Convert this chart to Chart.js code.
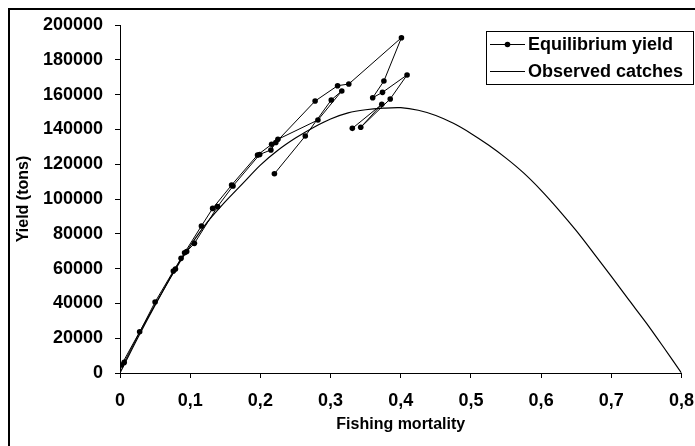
<!DOCTYPE html>
<html>
<head>
<meta charset="utf-8">
<script src="https://cdn.jsdelivr.net/npm/chart.js@4.4.1/dist/chart.umd.min.js"></script>
<style>
  html, body { margin: 0; padding: 0; background: #ffffff; }
  #chart { display: block; }
</style>
</head>
<body>
<canvas id="chart" width="695" height="446"></canvas>
<script>
// Equilibrium yield path (fishing mortality, yield in tons), in series order
const eqMortality = [
  0.220, 0.264, 0.301, 0.316, 0.282, 0.225, 0.216, 0.196, 0.159, 0.132,
  0.116, 0.092, 0.076, 0.050, 0.006, 0.002, 0.028, 0.079, 0.087, 0.095,
  0.106, 0.139, 0.161, 0.199, 0.215, 0.222, 0.278, 0.310, 0.326, 0.401,
  0.376, 0.360, 0.374, 0.409, 0.385, 0.343, 0.373, 0.331
];
const eqYield = [
  114500, 136200, 156900, 162100, 145400, 134300, 131400, 125300, 108000, 94600,
  84500, 69100, 58600, 40800, 6100, 4600, 23700, 59800, 65900, 69800,
  74500, 95600, 107500, 125600, 128200, 132500, 156300, 165100, 166100, 192700,
  167800, 158200, 161300, 171300, 157500, 141200, 154400, 140600
];

// Observed catches curve
const obsMortality = [
  0, 0.025, 0.05, 0.075, 0.1, 0.125, 0.15, 0.175, 0.2, 0.225,
  0.25, 0.275, 0.3, 0.325, 0.35, 0.375, 0.4, 0.425, 0.45, 0.475,
  0.5, 0.525, 0.55, 0.575, 0.6, 0.625, 0.65, 0.675, 0.7, 0.725,
  0.75, 0.775, 0.8
];
const obsCatch = [
  0, 20000, 39000, 57000, 73000, 87000, 98500, 109000, 119500, 128000,
  135000, 141000, 146000, 149500, 151300, 152200, 152500, 151000, 148000, 143500,
  137700, 131000, 123500, 115000, 105000, 93800, 81800, 68800, 55500, 42000,
  28700, 14500, 0
];

const xTicks = { min: 0, max: 0.8, step: 0.1 };
const yTicks = { min: 0, max: 200000, step: 20000 };

const FONT = '"Liberation Sans", Arial, sans-serif';

const pageFrame = {
  id: "pageFrame",
  beforeDraw(chart) {
    const ctx = chart.ctx;
    ctx.save();
    ctx.fillStyle = "#ffffff";
    ctx.fillRect(0, 0, chart.width, chart.height);
    ctx.strokeStyle = "#000000";
    ctx.lineWidth = 2;
    ctx.strokeRect(9, 9, chart.width + 10, chart.height + 10);
    ctx.restore();
  },
};

const boxLegend = {
  id: "boxLegend",
  afterDraw(chart) {
    const ctx = chart.ctx;
    const box = { left: 486.5, top: 31.5, right: 693.5, bottom: 84.5 };
    const rows = [44, 71];
    ctx.save();
    ctx.fillStyle = "#ffffff";
    ctx.fillRect(box.left, box.top, box.right - box.left, box.bottom - box.top);
    ctx.strokeStyle = "#000000";
    ctx.lineWidth = 1;
    ctx.strokeRect(box.left, box.top, box.right - box.left, box.bottom - box.top);

    chart.data.datasets.forEach((ds, i) => {
      const y = rows[i];
      ctx.strokeStyle = "#000000";
      ctx.lineWidth = 1;
      ctx.beginPath();
      ctx.moveTo(490, y + 0.5);
      ctx.lineTo(525, y + 0.5);
      ctx.stroke();
      if (ds.pointRadius > 0) {
        ctx.fillStyle = "#000000";
        ctx.beginPath();
        ctx.arc(507.5, y + 0.5, 2.8, 0, Math.PI * 2);
        ctx.fill();
      }
      ctx.fillStyle = "#000000";
      ctx.font = "bold 18px " + FONT;
      ctx.textBaseline = "middle";
      ctx.textAlign = "left";
      ctx.fillText(ds.label, 528, y + 1);
    });
    ctx.restore();
  },
};

const toPoints = (xs, ys) => xs.map((x, i) => ({ x: x, y: ys[i] }));

new Chart(document.getElementById("chart"), {
  type: "scatter",
  data: {
    datasets: [
      {
        label: "Equilibrium yield",
        data: toPoints(eqMortality, eqYield),
        showLine: true,
        borderColor: "#000000",
        borderWidth: 1,
        pointRadius: 2.8,
        pointBackgroundColor: "#000000",
        pointBorderColor: "#000000",
        pointBorderWidth: 0,
        tension: 0,
      },
      {
        label: "Observed catches",
        data: toPoints(obsMortality, obsCatch),
        showLine: true,
        borderColor: "#000000",
        borderWidth: 1.2,
        pointRadius: 0,
        tension: 0.3,
      },
    ],
  },
  options: {
    responsive: false,
    animation: false,
    devicePixelRatio: 1,
    layout: { padding: { top: 25, right: 13.5, left: 0, bottom: 0 } },
    plugins: {
      legend: { display: false },
      tooltip: { enabled: false },
    },
    scales: {
      x: {
        type: "linear",
        min: xTicks.min,
        max: xTicks.max,
        afterFit: (s) => {
          s.height = 73;
          s.paddingLeft = 0;
          s.paddingRight = 0;
        },
        ticks: {
          stepSize: xTicks.step,
          color: "#000000",
          padding: 12,
          font: { family: FONT, size: 18, weight: "bold" },
          callback: (v) => (v === 0 ? "0" : v.toFixed(1).replace(".", ",")),
        },
        grid: { drawOnChartArea: false, drawTicks: true, tickLength: 5, color: "#000000" },
        border: { color: "#000000", width: 1 },
        title: {
          display: true,
          text: "Fishing mortality",
          color: "#000000",
          font: { family: FONT, size: 16, weight: "bold" },
          padding: { top: 0, bottom: 12 },
        },
      },
      y: {
        min: yTicks.min,
        max: yTicks.max,
        afterFit: (s) => {
          s.width = 120;
          s.paddingTop = 0;
          s.paddingBottom = 0;
        },
        ticks: {
          stepSize: yTicks.step,
          color: "#000000",
          padding: 12,
          font: { family: FONT, size: 18, weight: "bold" },
          callback: (v) => String(v),
        },
        grid: { drawOnChartArea: false, drawTicks: true, tickLength: 5, color: "#000000" },
        border: { color: "#000000", width: 1 },
        title: {
          display: true,
          text: "Yield (tons)",
          color: "#000000",
          font: { family: FONT, size: 16, weight: "bold" },
          padding: { top: 14, bottom: 0 },
        },
      },
    },
  },
  plugins: [pageFrame, boxLegend],
});
</script>
</body>
</html>
